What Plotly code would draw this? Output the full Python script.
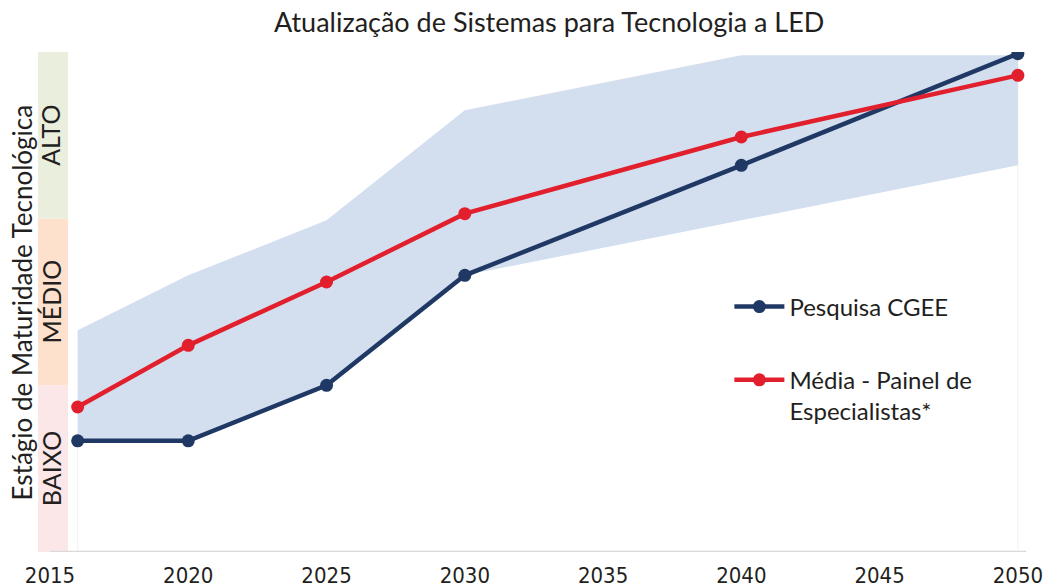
import plotly.graph_objects as go

# ---- data ----
years = [2016, 2020, 2025, 2030, 2040, 2050]
cgee = [0.667, 0.667, 1.0, 1.66, 2.32, 2.99]
painel = [0.87, 1.24, 1.62, 2.03, 2.49, 2.86]
band_upper = [1.33, 1.66, 1.99, 2.65, 2.98, 2.98]
band_lower = [0.667, 0.667, 1.0, 1.66, 1.99, 2.32]
levels = ["BAIXO", "MÉDIO", "ALTO"]
level_colors = ["#fce7e8", "#fde1cc", "#e9eedd"]
tick_years = [2015, 2020, 2025, 2030, 2035, 2040, 2045, 2050]

title_text = "Atualização de Sistemas para Tecnologia a LED"
y_title = "Estágio de Maturidade Tecnológica"

NAVY = "#1f3864"
RED = "#e21f2c"
BAND = "#d3deef"
TXT = "#231f20"
FONT = "Lato"

fig = go.Figure()

# shaded range band
fig.add_trace(go.Scatter(
    x=years + years[::-1], y=band_upper + band_lower[::-1],
    fill="toself", fillcolor=BAND, line=dict(width=0),
    mode="lines", showlegend=False, hoverinfo="skip"))

fig.add_trace(go.Scatter(
    x=years, y=cgee, mode="lines+markers", name="Pesquisa CGEE",
    line=dict(color=NAVY, width=4.5), marker=dict(color=NAVY, size=13),
    legendgroup="a"))
fig.add_trace(go.Scatter(
    x=years, y=painel, mode="lines+markers",
    name="Média - Painel de<br>Especialistas*",
    line=dict(color=RED, width=4.5), marker=dict(color=RED, size=13),
    legendgroup="b"))

shapes = []
for i, (lv, col) in enumerate(zip(levels, level_colors)):
    shapes.append(dict(type="rect", xref="paper", yref="y", x0=0, x1=0.03,
                       y0=i, y1=i + 1, fillcolor=col, line=dict(width=0),
                       layer="below"))
# faint edges of the band area
for xv, yv in [(years[0], band_lower[0]), (years[-1], band_upper[-1])]:
    shapes.append(dict(type="line", xref="x", yref="y", x0=xv, x1=xv, y0=0,
                       y1=yv, line=dict(color="#f0f0f0", width=1), layer="below"))
# x axis line
shapes.append(dict(type="line", xref="x", yref="y", x0=tick_years[0],
                   x1=tick_years[-1] + 0.3, y0=0, y1=0,
                   line=dict(color="#d9d9d9", width=2.5)))

annotations = []
for i, lv in enumerate(levels):
    annotations.append(dict(text=lv, xref="paper", yref="y", x=0.0125, y=i + 0.5,
                            textangle=-90, showarrow=False,
                            font=dict(family=FONT, size=25, color=TXT),
                            xanchor="center", yanchor="middle"))
annotations.append(dict(text=y_title, xref="paper", yref="y", x=-0.0155, y=1.5,
                        textangle=-90, showarrow=False,
                        font=dict(family=FONT, size=26, color=TXT),
                        xanchor="center", yanchor="middle"))

fig.update_layout(
    width=1046, height=587,
    margin=dict(l=38, r=6, t=52, b=35, autoexpand=False),
    paper_bgcolor="white", plot_bgcolor="white",
    title=dict(text=title_text, x=0.525, xanchor="center", y=0.962,
               yanchor="middle", font=dict(family=FONT, size=27, color=TXT)),
    xaxis=dict(range=[2014.566, 2050.8], tickvals=tick_years, automargin=False,
               showgrid=False, zeroline=False, showline=False, ticks="",
               ticklabelstandoff=8,
               tickfont=dict(family="DejaVu Sans Condensed", size=22, color=TXT)),
    yaxis=dict(range=[0, 3], showgrid=False, zeroline=False, showline=False,
               showticklabels=False, ticks="", automargin=False),
    shapes=shapes, annotations=annotations,
    showlegend=True,
    legend=dict(x=0.690, y=0.535, xanchor="left", yanchor="top",
                font=dict(family=FONT, size=24, color=TXT),
                tracegroupgap=39, valign="top", bgcolor="rgba(0,0,0,0)",
                itemwidth=50),
)

fig.write_html("out.html", config={"displayModeBar": False},
               post_script="document.body.style.margin='0px';")
